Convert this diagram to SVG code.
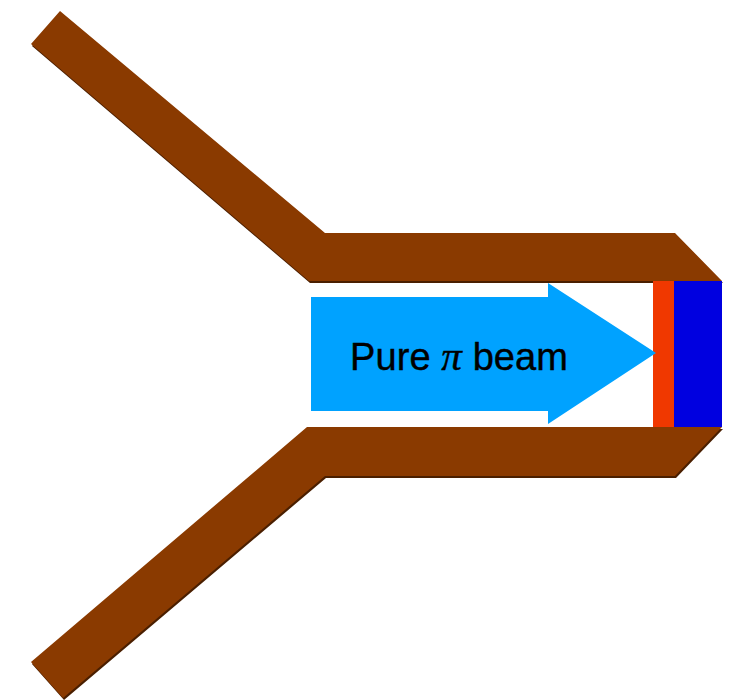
<svg xmlns="http://www.w3.org/2000/svg" width="733" height="700" viewBox="0 0 733 700">
<style>
.pipe{fill:#8a3a00}
.shadow{fill:#4a1f00}
.label{font-family:"Liberation Sans",Arial,sans-serif;font-size:38px;fill:#000}
.pi{font-family:"Liberation Serif","Times New Roman",serif;font-style:italic;font-size:41px}
</style>
<rect width="733" height="700" fill="#fff"/>
<g id="upper-arm">
<polygon class="shadow" points="61,13 32,46 310,283 723,283 676,235 326,235"/>
<polygon class="pipe" points="60,11 31,44 309,281 722,281 675,233 325,233"/>
</g>
<g id="lower-arm">
<polygon class="shadow" points="308,429 723,429 676,478 326,478 64,700 32,664"/>
<polygon class="pipe" points="307,427 722,427 675,476 325,476 63,698 31,662"/>
</g>
<g id="target">
<rect x="653" y="281" width="21" height="146" fill="#f03800"/>
<rect x="674" y="281" width="48" height="146" fill="#0000e0"/>
</g>
<g id="beam">
<polygon points="311,297 548,297 548,283 656,353 548,424 548,411 311,411" fill="#00a2ff"/>
<text class="label" x="350" y="370" stroke="#000" stroke-width="0.4" textLength="218" lengthAdjust="spacing">Pure <tspan class="pi">π</tspan> beam</text>
</g>
</svg>
